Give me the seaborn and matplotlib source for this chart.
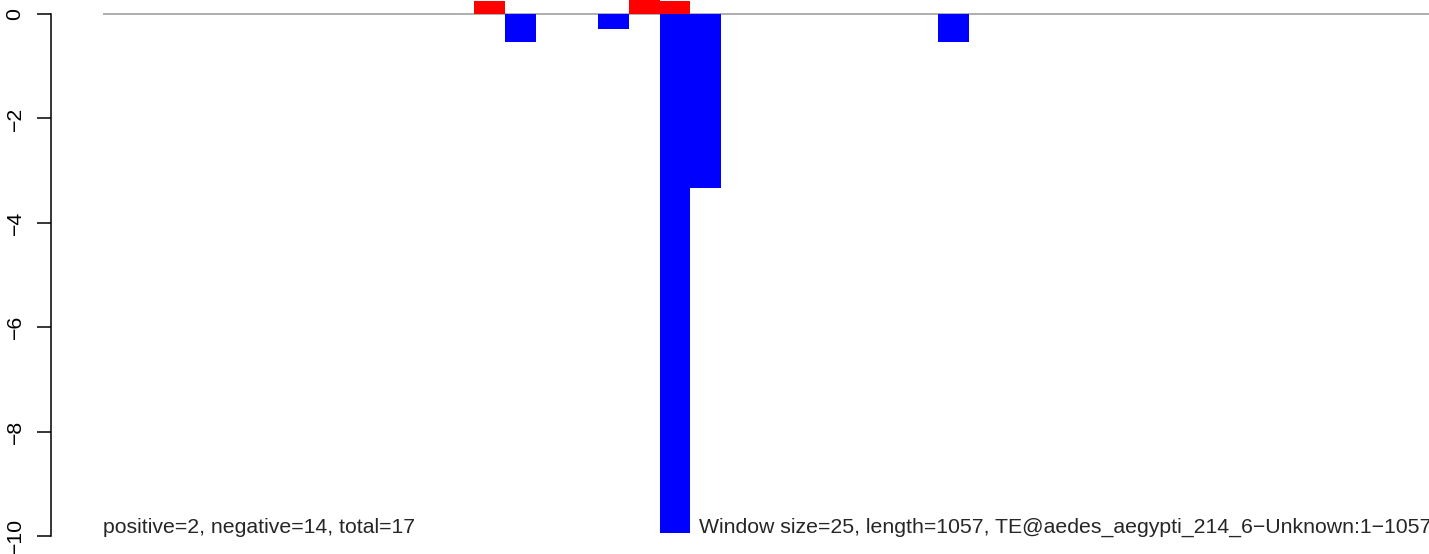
import numpy as np
import pandas as pd
import matplotlib
matplotlib.use("Agg")
import matplotlib.pyplot as plt
import seaborn as sns

# ---- data ----
n_bins = 43  # windows of 25 nt over length 1057
bins = list(range(n_bins))
pos_bins = [12, 17, 18]
pos_vals = [0.25, 0.30, 0.25]
neg_bins = [13, 16, 18, 19, 27]
neg_vals = [-0.53, -0.28, -9.94, -3.33, -0.53]
yticks = [0, -2, -4, -6, -8, -10]
ytick_labels = ["0", "\u22122", "\u22124", "\u22126", "\u22128", "\u221210"]
left_text = "positive=2, negative=14, total=17"
right_text = "Window size=25, length=1057, TE@aedes_aegypti_214_6\u2212Unknown:1\u22121057"

pos = np.zeros(n_bins)
neg = np.zeros(n_bins)
for b, v in zip(pos_bins, pos_vals):
    pos[b] = v
for b, v in zip(neg_bins, neg_vals):
    neg[b] = v
df = pd.DataFrame({"bin": bins, "pos": pos, "neg": neg})

sns.set_style("white")
plt.rcParams["font.family"] = ["Liberation Sans", "DejaVu Sans"]

W, H = 1429, 554
fig = plt.figure(figsize=(W / 100, H / 100), dpi=100)
ax = fig.add_axes([51 / W, 0, 1 - 51 / W, 1])

sns.barplot(data=df, x="bin", y="pos", color="#FF0000", saturation=1,
            width=1.0, errorbar=None, linewidth=0, ax=ax)
sns.barplot(data=df, x="bin", y="neg", color="#0000FF", saturation=1,
            width=1.0, errorbar=None, linewidth=0, ax=ax)

bw = 30.92
ax.set_xlim((51 - 103) / bw - 0.5, (W - 103) / bw - 0.5)
ppu = 52.2
ax.set_ylim(-(H - 14) / ppu, 14 / ppu)

ax.hlines(0, -0.5, n_bins, color="#A8A8A8", linewidth=1.3, zorder=0.5)

for s in ["top", "right", "bottom"]:
    ax.spines[s].set_visible(False)
ax.spines["left"].set_bounds(-10, 0)
ax.spines["left"].set_linewidth(1.1)
ax.spines["left"].set_color("black")
ax.set_xticks([])
ax.set_yticks(yticks)
ax.set_yticklabels(ytick_labels, rotation=90, va="center", fontsize=15.3)
ax.tick_params(axis="y", direction="out", length=10, width=1.1, pad=9, colors="black", left=True)
ax.set_xlabel("")
ax.set_ylabel("")
ax.set_facecolor("white")

ax.text((103 - 103) / bw - 0.5, -9.94, left_text, ha="left", va="baseline", fontsize=15.3)
ax.text((1431 - 103) / bw - 0.5, -9.94, right_text, ha="right", va="baseline", fontsize=15.3, clip_on=False)

fig.savefig("out.png", dpi=100, facecolor="white")
